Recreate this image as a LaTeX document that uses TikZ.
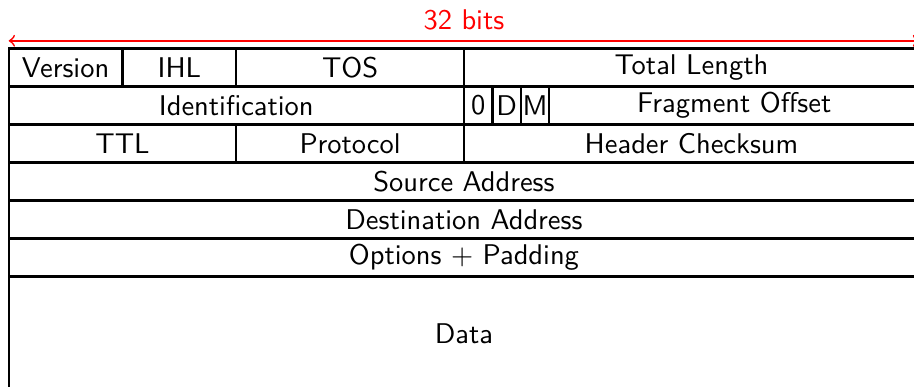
\documentclass[tikz,border=0pt]{standalone}
\usepackage{tikz}

\begin{document}
\begin{tikzpicture}[x = 0.351cm, y = 0.469cm, thick, every node/.style = {font=\sffamily}]
    \useasboundingbox (-0.306, 1.273) rectangle (31.82, -8.898);
    % width arrow
    \coordinate (l) at (0, 0.2);
    \coordinate (r) at (32, 0.2);
    \draw[red, semithick, <->] (l) -- node[above, text=red] (bits) {32 bits} (r);
    % header fields: from bit / to bit / row / name / text
    \foreach \a/\b/\r/\n/\t in {0/4/0/ver/Version, 4/8/0/ihl/IHL, 8/16/0/tos/TOS, 16/32/0/len/Total Length,
        0/16/1/id/Identification, 16/17/1/zero/0, 17/18/1/df/D, 18/19/1/mf/M, 19/32/1/frag/Fragment Offset,
        0/8/2/ttl/TTL, 8/16/2/proto/Protocol, 16/32/2/csum/Header Checksum,
        0/32/3/src/Source Address, 0/32/4/dst/Destination Address, 0/32/5/opt/Options $+$ Padding}
        \draw (\a, -\r) rectangle (\b, -\r-1) node[midway] (\n) {\t};
    \draw (0, -6) rectangle (32, -9) node[midway] (data) {Data};
\end{tikzpicture}
\end{document}
